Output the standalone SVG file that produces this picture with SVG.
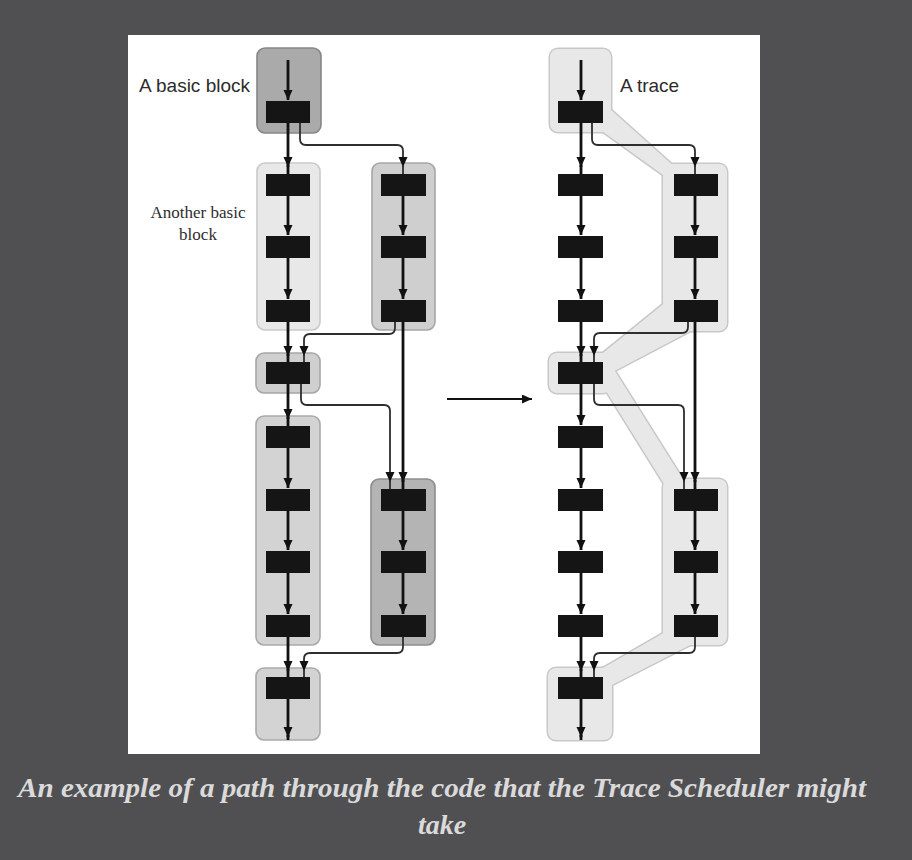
<svg xmlns="http://www.w3.org/2000/svg" xmlns:xlink="http://www.w3.org/1999/xlink" width="912" height="860" viewBox="0 0 912 860">
<style>
.box{fill:#151515}
.blk{stroke-width:1.6}
.b-dark{fill:#aaaaaa;stroke:#878787}
.b-light{fill:#e8e8e8;stroke:#cacaca}
.b-mid{fill:#cfcfcf;stroke:#a7a7a7}
.b-mid2{fill:#d3d3d3;stroke:#aaaaaa}
.b-dark2{fill:#b4b4b4;stroke:#8d8d8d}
.thick{fill:none;stroke:#111;stroke-width:2.8}
.thin{fill:none;stroke:#2e2e2e;stroke-width:1.8}
.arr{marker-end:url(#ah)}
.sans{font-family:"Liberation Sans",Arial,sans-serif;font-size:19px;fill:#2c2c2c}
.serif{font-family:"Liberation Serif","Times New Roman",serif;font-size:17px;fill:#2e2e2e}
.cap{font-family:"Liberation Serif","Times New Roman",serif;font-style:italic;font-weight:bold;font-size:28px;fill:#dadada}
.tr-out{fill:#c8c8c8;stroke:#c8c8c8;stroke-width:3;stroke-linejoin:round}
.tr-in{fill:#e8e8e8}
</style>
<defs>
<marker id="ah" markerUnits="userSpaceOnUse" markerWidth="11" markerHeight="10" refX="10" refY="4.5" orient="auto">
<path d="M0,0 L10,4.5 L0,9 z" fill="#111"/>
</marker>
<g id="traceShape">
<rect x="550" y="49" width="61" height="83" rx="8"/>
<rect x="663" y="164" width="64" height="167" rx="8"/>
<rect x="549" y="353" width="62" height="40" rx="8"/>
<rect x="663" y="479" width="64" height="166" rx="8"/>
<rect x="548" y="668" width="64" height="72" rx="8"/>
<polygon points="600,100 676,168 670,180 595,126"/>
<polygon points="672,297 700,326 605,376 598,357"/>
<polygon points="608,360 696,500 674,500 593,370"/>
<polygon points="672,628 700,640 606,688 596,672"/>
</g>
</defs>
<rect x="0" y="0" width="912" height="860" fill="#505053"/>
<rect x="128" y="35" width="632" height="719" fill="#ffffff"/>

<!-- LEFT: basic blocks -->
<g id="L-top">
<rect class="blk b-dark" x="257" y="48" width="64" height="85" rx="8"/>
<rect class="box" x="266" y="101" width="44" height="22"/>
</g>
<g id="L-b2a">
<rect class="blk b-light" x="257" y="163" width="63" height="167" rx="8"/>
<rect class="box" x="266" y="174" width="44" height="22"/>
<rect class="box" x="266" y="236" width="44" height="22"/>
<rect class="box" x="266" y="300" width="44" height="22"/>
</g>
<g id="L-b2b">
<rect class="blk b-mid" x="372" y="163" width="63" height="167" rx="8"/>
<rect class="box" x="381" y="174" width="45" height="22"/>
<rect class="box" x="381" y="236" width="45" height="22"/>
<rect class="box" x="381" y="300" width="45" height="22"/>
</g>
<g id="L-small">
<rect class="blk b-mid" x="256" y="353" width="64" height="40" rx="8"/>
<rect class="box" x="266" y="362" width="44" height="22"/>
</g>
<g id="L-b3a">
<rect class="blk b-mid2" x="256" y="416" width="64" height="229" rx="8"/>
<rect class="box" x="266" y="426" width="44" height="22"/>
<rect class="box" x="266" y="489" width="44" height="22"/>
<rect class="box" x="266" y="551" width="44" height="22"/>
<rect class="box" x="266" y="615" width="44" height="22"/>
</g>
<g id="L-b3b">
<rect class="blk b-dark2" x="371" y="479" width="64" height="166" rx="8"/>
<rect class="box" x="381" y="489" width="45" height="22"/>
<rect class="box" x="381" y="551" width="45" height="22"/>
<rect class="box" x="381" y="615" width="45" height="22"/>
</g>
<g id="L-bottom">
<rect class="blk b-mid2" x="256" y="668" width="64" height="72" rx="8"/>
<rect class="box" x="266" y="677" width="44" height="22"/>
</g>

<!-- RIGHT: trace -->
<g id="trace">
<use xlink:href="#traceShape" href="#traceShape" class="tr-out"/>
<use xlink:href="#traceShape" href="#traceShape" class="tr-in"/>
</g>
<g id="R-col1">
<rect class="box" x="558" y="101" width="45" height="22"/>
<rect class="box" x="558" y="174" width="45" height="22"/>
<rect class="box" x="558" y="236" width="45" height="22"/>
<rect class="box" x="558" y="300" width="45" height="22"/>
<rect class="box" x="558" y="362" width="45" height="22"/>
<rect class="box" x="558" y="426" width="45" height="22"/>
<rect class="box" x="558" y="489" width="45" height="22"/>
<rect class="box" x="558" y="551" width="45" height="22"/>
<rect class="box" x="558" y="615" width="45" height="22"/>
<rect class="box" x="558" y="677" width="45" height="22"/>
</g>
<g id="R-col2">
<rect class="box" x="674" y="174" width="44" height="22"/>
<rect class="box" x="674" y="236" width="44" height="22"/>
<rect class="box" x="674" y="300" width="44" height="22"/>
<rect class="box" x="674" y="489" width="44" height="22"/>
<rect class="box" x="674" y="551" width="44" height="22"/>
<rect class="box" x="674" y="615" width="44" height="22"/>
</g>

<!-- connectors -->
<g id="connectors">
<!-- left main column -->
<path class="thick arr" d="M288 60 V100"/>
<path class="thick arr" d="M288 123 V167"/><path class="thick" d="M288 165 V174"/>
<path class="thick arr" d="M288 196 V235"/>
<path class="thick arr" d="M288 258 V299"/>
<path class="thick arr" d="M288 322 V356"/><path class="thick" d="M288 354 V362"/>
<path class="thick arr" d="M288 384 V419"/><path class="thick" d="M288 417 V426"/>
<path class="thick arr" d="M288 448 V488"/>
<path class="thick arr" d="M288 511 V550"/>
<path class="thick arr" d="M288 573 V614"/>
<path class="thick arr" d="M288 637 V671"/><path class="thick" d="M288 669 V677"/>
<path class="thick arr" d="M288 699 V737"/><path class="thick" d="M288 735 V740"/>
<!-- left branches -->
<path class="thin arr" d="M300 123 V139 Q300 145 306 145 H397 Q403 145 403 151 V167"/><path class="thin" d="M403 165 V174"/>
<path class="thick arr" d="M403 196 V235"/>
<path class="thick arr" d="M403 258 V299"/>
<path class="thick arr" d="M403 322 V482"/><path class="thick" d="M403 480 V489"/>
<path class="thin arr" d="M395 322 V328 Q395 334 389 334 H310 Q304 334 304 340 V356"/><path class="thin" d="M304 354 V362"/>
<path class="thin arr" d="M301 384 V399 Q301 405 307 405 H384 Q390 405 390 411 V482"/><path class="thin" d="M390 480 V489"/>
<path class="thick arr" d="M403 511 V550"/>
<path class="thick arr" d="M403 573 V614"/>
<path class="thin arr" d="M403 637 V647 Q403 653 397 653 H310 Q304 653 304 659 V671"/><path class="thin" d="M304 669 V677"/>
<!-- middle arrow -->
<path class="thin arr" style="stroke:#111;stroke-width:2.2" d="M447 399 H532"/>
<!-- right main column -->
<path class="thick arr" d="M581 60 V100"/>
<path class="thick arr" d="M581 123 V167"/><path class="thick" d="M581 165 V174"/>
<path class="thick arr" d="M581 196 V235"/>
<path class="thick arr" d="M581 258 V299"/>
<path class="thick arr" d="M581 322 V356"/><path class="thick" d="M581 354 V362"/>
<path class="thick arr" d="M581 384 V425"/>
<path class="thick arr" d="M581 448 V488"/>
<path class="thick arr" d="M581 511 V550"/>
<path class="thick arr" d="M581 573 V614"/>
<path class="thick arr" d="M581 637 V671"/><path class="thick" d="M581 669 V677"/>
<path class="thick arr" d="M581 699 V737"/><path class="thick" d="M581 735 V740"/>
<!-- right branches -->
<path class="thin arr" d="M592 123 V139 Q592 145 598 145 H689 Q695 145 695 151 V167"/><path class="thin" d="M695 165 V174"/>
<path class="thick arr" d="M695 196 V235"/>
<path class="thick arr" d="M695 258 V299"/>
<path class="thick arr" d="M695 322 V482"/><path class="thick" d="M695 480 V489"/>
<path class="thin arr" d="M688 322 V327 Q688 333 682 333 H600 Q594 333 594 339 V356"/><path class="thin" d="M594 354 V362"/>
<path class="thin arr" d="M594 384 V399 Q594 405 600 405 H678 Q684 405 684 411 V482"/><path class="thin" d="M684 480 V489"/>
<path class="thick arr" d="M695 511 V550"/>
<path class="thick arr" d="M695 573 V614"/>
<path class="thin arr" d="M695 637 V647 Q695 653 689 653 H600 Q594 653 594 659 V671"/><path class="thin" d="M594 669 V677"/>
</g>

<!-- labels -->
<text class="sans" x="250" y="92" text-anchor="end">A basic block</text>
<text class="serif" x="198" y="218" text-anchor="middle">Another basic</text>
<text class="serif" x="198" y="240" text-anchor="middle">block</text>
<text class="sans" x="620" y="92">A trace</text>
<text class="cap" x="442" y="797" text-anchor="middle" textLength="848" lengthAdjust="spacingAndGlyphs">An example of a path through the code that the Trace Scheduler might</text>
<text class="cap" x="442" y="834" text-anchor="middle">take</text>
</svg>
